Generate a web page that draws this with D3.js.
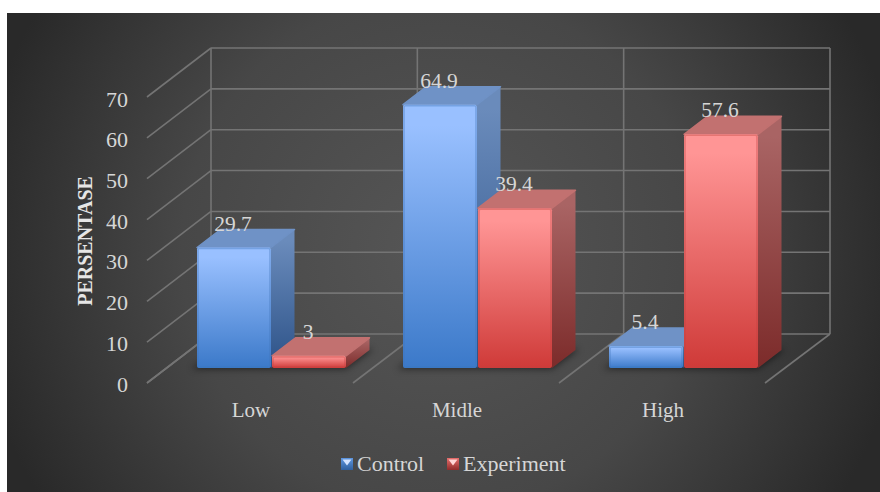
<!DOCTYPE html>
<html>
<head>
<meta charset="utf-8">
<script src="https://cdn.jsdelivr.net/npm/d3@7"></script>
<style>
html,body{margin:0;padding:0;background:#fff}
svg{display:block}
text{font-family:"Liberation Serif",serif;fill:#d6d6d6}
</style>
</head>
<body>
<svg id="chart" width="880" height="492"></svg>
<script>
// Chart data
const categories = ["Low", "Midle", "High"];
const seriesNames = ["Control", "Experiment"];
const controlValues = [29.7, 64.9, 5.4];
const experimentValues = [3, 39.4, 57.6];
const valueTicks = [0, 10, 20, 30, 40, 50, 60, 70];
const axisTitle = "PERSENTASE";

// Colour ramps per series: front face, side face, top face
const palette = {
  Control:    {front:["#99c0ff","#3b79c9"], side:["#6a8bbb","#2c5288"], top:"#6f92c6", edge:"#3f75b8", glint:"#d3e3ff", chip:["#5b93dc","#2f5f9e"]},
  Experiment: {front:["#ff9595","#cf3a38"], side:["#a96464","#7c2b2a"], top:"#c27170", edge:"#c24442", glint:"#ffd6d6", chip:["#e06a68","#8f2b2a"]}
};

const svg = d3.select("#chart");
const defs = svg.append("defs");

const bg = defs.append("radialGradient").attr("id","bg")
  .attr("gradientUnits","userSpaceOnUse")
  .attr("cx",440).attr("cy",252).attr("r",470);
bg.append("stop").attr("offset","0").attr("stop-color","#565656");
bg.append("stop").attr("offset","0.55").attr("stop-color","#474747");
bg.append("stop").attr("offset","1").attr("stop-color","#292929");

const soft = defs.append("filter").attr("id","soft")
  .attr("x","-20%").attr("y","-200%").attr("width","140%").attr("height","500%");
soft.append("feGaussianBlur").attr("stdDeviation",3.5);

const rimBlur = defs.append("filter").attr("id","rim")
  .attr("x","-10%").attr("y","-10%").attr("width","120%").attr("height","120%");
rimBlur.append("feGaussianBlur").attr("stdDeviation",0.7);

// Gradients are shared by all bars of a series
seriesNames.forEach(name => {
  const p = palette[name];
  [["front",p.front],["side",p.side],["chip",p.chip]].forEach(([face,c]) => {
    const g = defs.append("linearGradient").attr("id",`${name}-${face}`)
      .attr("x1",0).attr("y1",0).attr("x2",0).attr("y2",1);
    g.append("stop").attr("offset","0.08").attr("stop-color",c[0]);
    g.append("stop").attr("offset","1").attr("stop-color",c[1]);
  });
});

svg.append("rect").attr("x",7).attr("y",13).attr("width",873).attr("height",479).attr("fill","url(#bg)");

// Oblique projection: planes of the 3D box
const depthBar = {dx: 23.5, dy: -18};

const backY  = d3.scaleLinear().domain([0,70]).range([334,48]);
const frontY = d3.scaleLinear().domain([0,70]).range([383,97]);
const barY   = d3.scaleLinear().domain([0,70]).range([368,84]);

const backX  = d3.scaleBand().domain(categories).range([211,830]);
const frontX = d3.scaleBand().domain(categories).range([147,765]);
const barX   = d3.scaleBand().domain(categories).range([167,785]);
const innerX = d3.scaleBand().domain(seriesNames).range([30,179]).paddingInner(1/75);

const grid = svg.append("g").attr("fill","none").attr("stroke","#747474").attr("stroke-width",1.6);

// Back wall and left wall grid lines
valueTicks.forEach(t => {
  grid.append("line").attr("x1",backX.range()[0]).attr("x2",backX.range()[1]).attr("y1",backY(t)).attr("y2",backY(t));
  grid.append("line").attr("x1",frontX.range()[0]).attr("x2",backX.range()[0]).attr("y1",frontY(t)).attr("y2",backY(t));
});
// Vertical wall lines and floor lines at category boundaries
const boundaries = categories.map(c => backX(c)).concat(backX.range()[1]);
const floorStarts = categories.map(c => frontX(c)).concat(frontX.range()[1]);
boundaries.forEach((bx,i) => {
  grid.append("line").attr("x1",bx).attr("x2",bx).attr("y1",backY(70)).attr("y2",backY(0));
  grid.append("line").attr("x1",floorStarts[i]).attr("x2",bx).attr("y1",frontY(0)).attr("y2",backY(0));
});

// Value axis and category axis text
const yAxis = svg.append("g").attr("transform","translate(128,0)")
  .call(d3.axisLeft(d3.scaleLinear().domain([0,70]).range([384,99])).tickValues(valueTicks).tickSize(0).tickPadding(0));
yAxis.select(".domain").remove();
yAxis.selectAll("text").style("font-size","22px").style("font-family",'"Liberation Serif",serif');

const xAxis = svg.append("g").attr("transform","translate(0,402)")
  .call(d3.axisBottom(d3.scaleBand().domain(categories).range([148,766])).tickSize(0).tickPadding(0));
xAxis.select(".domain").remove();
xAxis.selectAll("text").style("font-size","21px").style("font-family",'"Liberation Serif",serif');

svg.append("text").attr("transform","translate(92,241) rotate(-90)")
  .attr("text-anchor","middle").attr("font-size",20).attr("font-weight","bold")
  .style("fill","#e6e6e6").text(axisTitle);

// Flatten the two series into bar records
const bars = categories.flatMap((c,i) => [
  {cat:c, name:seriesNames[0], value:controlValues[i]},
  {cat:c, name:seriesNames[1], value:experimentValues[i]}
]);

const barWidth = innerX.bandwidth();
const yBase = barY(0);

// Floor shadow beneath each group
svg.append("g").selectAll("path").data(categories).join("path")
  .attr("filter","url(#soft)").attr("fill","#000").attr("opacity",0.5)
  .attr("d", c => {
    const x0 = barX(c)+innerX(seriesNames[0]);
    const x1 = barX(c)+innerX(seriesNames[1])+barWidth;
    return `M${x0-6},${yBase+1}L${x1},${yBase+1}L${x1+depthBar.dx+4},${yBase+depthBar.dy-1}L${x0+depthBar.dx},${yBase+depthBar.dy-1}Z`;
  });

const barG = svg.append("g").selectAll("g").data(bars).join("g");

barG.each(function(d){
  const g = d3.select(this), p = palette[d.name];
  const x0 = barX(d.cat)+innerX(d.name), x1 = x0+barWidth, yt = barY(d.value);
  const dx = depthBar.dx, dy = depthBar.dy;
  // Side face
  g.append("path").attr("fill",`url(#${d.name}-side)`)
    .attr("d",`M${x1},${yt}L${x1+dx},${yt+dy}L${x1+dx},${yBase+dy}L${x1},${yBase}Z`);
  // Top face
  g.append("path").attr("fill",p.top).attr("stroke",p.top).attr("stroke-width",1.5).attr("stroke-linejoin","round")
    .attr("d",`M${x0},${yt}L${x0+dx},${yt+dy}L${x1+dx},${yt+dy}L${x1},${yt}Z`);
  // Front face
  g.append("rect").attr("x",x0).attr("y",yt).attr("width",barWidth).attr("height",yBase-yt)
    .attr("rx",2).attr("fill",`url(#${d.name}-front)`);
  // Bevelled rim of the front face
  g.append("rect").attr("x",x0+1).attr("y",yt+1).attr("width",barWidth-2).attr("height",yBase-yt-2)
    .attr("rx",1.5).attr("fill","none").attr("stroke",p.edge).attr("stroke-width",1.6)
    .attr("stroke-opacity",0.4).attr("filter","url(#rim)");
});

// Value labels sit over the top face of each bar
svg.append("g").selectAll("text").data(bars).join("text")
  .attr("x", d => barX(d.cat)+innerX(d.name)+barWidth/2-1)
  .attr("y", d => barY(d.value)+depthBar.dy+1)
  .attr("text-anchor","middle").attr("font-size",21.5)
  .text(d => d.value);

// Legend
const legendItems = [
  {name:seriesNames[0], sx:341, tx:357},
  {name:seriesNames[1], sx:447, tx:463}
];
const legend = svg.append("g").selectAll("g").data(legendItems).join("g");
legend.append("rect").attr("x",d=>d.sx).attr("y",458).attr("width",12).attr("height",12)
  .attr("fill",d=>`url(#${d.name}-chip)`);
legend.append("path").attr("fill",d=>palette[d.name].glint)
  .attr("d",d=>`M${d.sx+1.5},459.5L${d.sx+10.5},459.5L${d.sx+6},465.5Z`);
legend.append("text").attr("x",d=>d.tx).attr("y",471).attr("font-size",22).text(d=>d.name);
</script>
</body>
</html>
